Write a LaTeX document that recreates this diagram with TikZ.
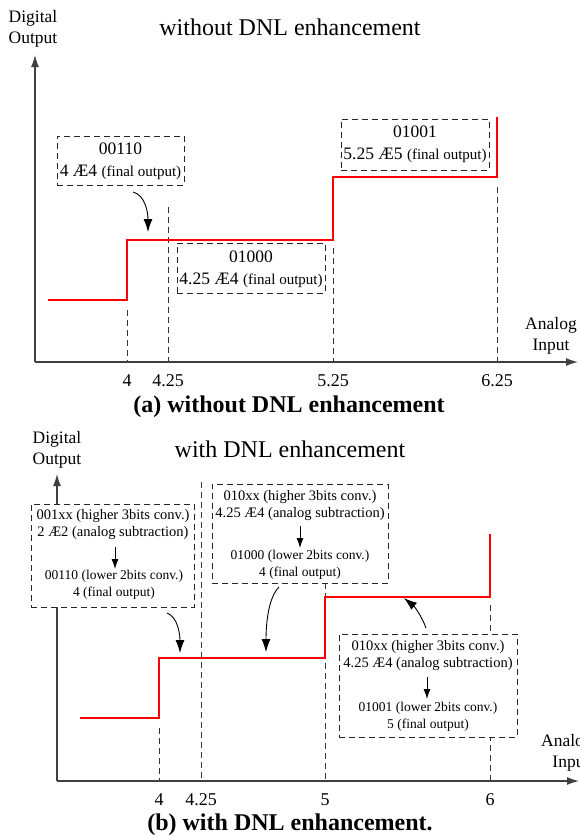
\documentclass[tikz,border=0pt]{standalone}
\usepackage{fontspec}
\setmainfont{Liberation Serif}
\usetikzlibrary{arrows.meta}
\begin{document}
\begin{tikzpicture}[x=1pt,y=-1pt,
  axis/.style={draw=black!75, line width=1.3pt, -{Latex[length=12pt,width=8pt]}},
  guide/.style={draw=black!80, line width=0.9pt, dash pattern=on 6pt off 4pt},
  stair/.style={draw=red, line width=1.1pt},
  dbox/.style={draw=black!85, line width=0.9pt, dash pattern=on 6pt off 4pt, fill=white, inner sep=0pt},
  pointer/.style={draw=black, line width=0.9pt, -{Latex[length=13pt,width=9pt]}},
  inarrow/.style={draw=black, line width=0.9pt, -{Latex[length=10pt,width=7pt]}},
  axlbl/.style={font=\fontsize{17.5}{21}\selectfont, align=center, inner sep=0pt},
  tick/.style={font=\fontsize{18}{20}\selectfont, inner sep=0pt},
  ttl/.style={font=\fontsize{24}{26}\selectfont, inner sep=0pt},
  captxt/.style={font=\fontsize{24}{26}\selectfont\bfseries, inner sep=0pt},
  btxt/.style={font=\fontsize{17.5}{22}\selectfont, align=center, inner sep=0pt},
  uptxt/.style={font=\fontsize{14.5}{17}\selectfont, align=center, inner sep=0pt},
  lowtxt/.style={font=\fontsize{13.5}{17}\selectfont, align=center, inner sep=0pt}
]
\useasboundingbox (0,0) rectangle (579,836);

% ===== panel (a) =====
\node[ttl] (ta) at (290,27) {without DNL enhancement};
\node[axlbl] (ya) at (33,29) {Digital\\Output};
\node[axlbl] (xa) at (551,336) {Analog\\Input};

\coordinate (oa) at (35,362);
\coordinate (yta) at (35,55);
\coordinate (xta) at (578,362);

\draw[guide] (127,310) -- (127,362);
\draw[guide] (168,207) -- (168,362);
\draw[guide] (333,248) -- (333,362);
\draw[guide] (497,187) -- (497,362);

\draw[stair] (48,300) -- (127,300) -- (127,240) -- (333,240) -- (333,177) -- (497,177) -- (497,117);

\draw[axis] (oa) -- (yta);
\draw[axis] (oa) -- (xta);

\node[tick] (a4) at (127,381) {4};
\node[tick] (a425) at (168,381) {4.25};
\node[tick] (a525) at (333,381) {5.25};
\node[tick] (a625) at (497,381) {6.25};

\node[dbox, minimum width=127pt, minimum height=49pt] (b1) at (120.5,160.5) {};
\node[btxt] (b1t) at (120.5,161) {00110\\4 Æ4 {\fontsize{15}{22}\selectfont(final output)}};
\node[dbox, minimum width=148pt, minimum height=50pt] (b2) at (251,268) {};
\node[btxt] (b2t) at (251,269.5) {01000\\4.25 Æ4 {\fontsize{15}{22}\selectfont(final output)}};
\node[dbox, minimum width=148pt, minimum height=51pt] (b3) at (415,144.5) {};
\node[btxt] (b3t) at (415,144) {01001\\5.25 Æ5 {\fontsize{15}{22}\selectfont(final output)}};

\coordinate (pa1) at (133,192);
\coordinate (pa2) at (148,232);
\draw[pointer] (pa1) .. controls (145,195) and (148,212) .. (pa2);

\node[captxt] (capa) at (289,407) {(a) without DNL enhancement};

% ===== panel (b) =====
\node[ttl] (tb) at (290,449) {with DNL enhancement};
\node[axlbl] (yb) at (57,449.5) {Digital\\Output};
\node[axlbl, anchor=north west] (xb) at (541,734) {Analog\\\hspace*{8pt}Input};

\coordinate (ob) at (57,781);
\coordinate (ytb) at (57,474);
\coordinate (xtb) at (579,781);

\draw[guide] (159,728) -- (159,781);
\draw[guide] (201,482) -- (201,781);
\draw[guide] (325,583) -- (325,781);
\draw[guide] (490,605) -- (490,781);

\draw[stair] (80,718) -- (159,718) -- (159,658) -- (325,658) -- (325,597) -- (490,597) -- (490,534);

\draw[axis] (ob) -- (ytb);
\draw[axis] (ob) -- (xtb);

\node[tick] (b4) at (159,800) {4};
\node[tick] (b425) at (201,800) {4.25};
\node[tick] (b5) at (325,800) {5};
\node[tick] (b6) at (490,800) {6};

% box c1
\node[dbox, minimum width=163pt, minimum height=103pt] (c1) at (112.5,555.5) {};
\node[uptxt] (c1u) at (113,525) {001xx (higher 3bits conv.)\\2 Æ2 (analog subtraction)};
\node[lowtxt] (c1l) at (114,585) {00110 (lower 2bits conv.)\\4 (final output)};
\coordinate (c1a) at (115,547);
\coordinate (c1b) at (115,569);
\draw[inarrow] (c1a) -- (c1b);

% box c2
\node[dbox, minimum width=176pt, minimum height=99pt] (c2) at (300,533.5) {};
\node[uptxt] (c2u) at (300,506) {010xx (higher 3bits conv.)\\4.25 Æ4 (analog subtraction)};
\node[lowtxt] (c2l) at (300,564.5) {01000 (lower 2bits conv.)\\4 (final output)};
\coordinate (c2a) at (300,526);
\coordinate (c2b) at (300,548);
\draw[inarrow] (c2a) -- (c2b);

% box c3
\node[dbox, minimum width=178pt, minimum height=103pt] (c3) at (428,685.5) {};
\node[uptxt] (c3u) at (428,656) {010xx (higher 3bits conv.)\\4.25 Æ4 (analog subtraction)};
\node[lowtxt] (c3l) at (428,716.5) {01001 (lower 2bits conv.)\\5 (final output)};
\coordinate (c3a) at (427,677);
\coordinate (c3b) at (427,699);
\draw[inarrow] (c3a) -- (c3b);

\coordinate (q1a) at (167,613);
\coordinate (q1b) at (180,653);
\draw[pointer] (q1a) .. controls (178,617) and (180,635) .. (q1b);
\coordinate (q2a) at (279,587);
\coordinate (q2b) at (266,652);
\draw[pointer] (q2a) .. controls (268,598) and (266,625) .. (q2b);
\coordinate (q3a) at (426,628);
\coordinate (q3b) at (404,598);
\draw[pointer] (q3a) .. controls (422,617) and (415,607) .. (q3b);

\node[captxt] (capb) at (290,825) {(b) with DNL enhancement.};
\end{tikzpicture}
\end{document}
